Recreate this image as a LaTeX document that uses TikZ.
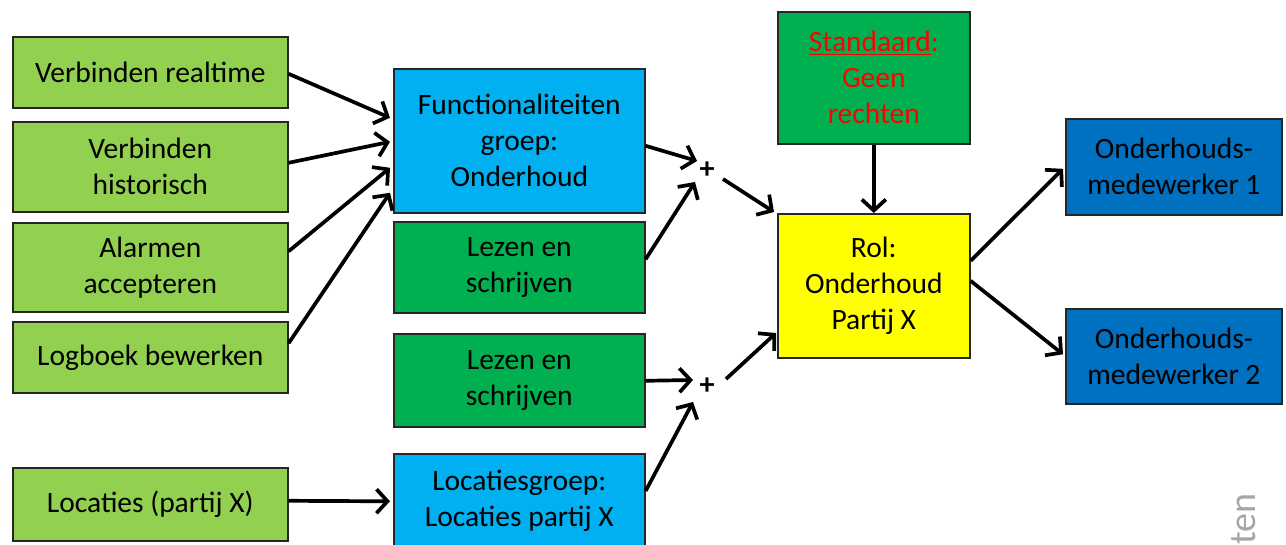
\documentclass[tikz,border=0pt]{standalone}
\usepackage{fontspec}
\setmainfont{Carlito}
\usetikzlibrary{arrows.meta,calc}
\definecolor{lgreen}{HTML}{92D050}
\definecolor{lblue}{HTML}{00B0F0}
\definecolor{dgreen}{HTML}{00B050}
\definecolor{dblue}{HTML}{0070C0}
\definecolor{ylw}{HTML}{FFFF00}
\definecolor{redtxt}{HTML}{FF0000}
\newcommand\myul[1]{\setbox0\hbox{#1}\rlap{\rule[-3.5pt]{\wd0}{1.6pt}}\box0}
\tikzset{
  box/.style={draw=black!85, line width=1.6pt, anchor=north west, align=center, inner sep=0pt,
    font=\fontsize{29.5}{36}\selectfont},
  arr/.style={line width=3.7pt, -{Straight Barb[length=11pt,width=24pt]}},
  plus/.style={font=\fontsize{30}{30}\selectfont\bfseries, inner sep=1pt},
}
\begin{document}
\begin{tikzpicture}[x=1pt,y=-1pt]
\useasboundingbox (0,0) rectangle (1286,545);
\fill[white] (0,0) rectangle (1286,545);
% left column
\node[box, fill=lgreen, minimum width=275pt, minimum height=71pt] (vr) at (12,36) {Verbinden realtime};
\node[box, fill=lgreen, minimum width=275pt, minimum height=90pt] (vh) at (12,121) {Verbinden\\historisch};
\node[box, fill=lgreen, minimum width=275pt, minimum height=89pt] (aa) at (12,222) {Alarmen\\accepteren};
\node[box, fill=lgreen, minimum width=275pt, minimum height=71pt] (lb) at (12,321) {Logboek bewerken};
\node[box, fill=lgreen, minimum width=275pt, minimum height=73pt] (lp) at (12,467) {Locaties (partij X)};
% middle column
\node[box, fill=lblue, minimum width=251pt, minimum height=144pt] (fg) at (393,68) {Functionaliteiten\\groep:\\Onderhoud};
\node[box, fill=dgreen, minimum width=251pt, minimum height=91pt] (ls1) at (393,221) {Lezen en\\schrijven};
\node[box, fill=dgreen, minimum width=251pt, minimum height=93pt] (ls2) at (393,333) {Lezen en\\schrijven};
\node[box, fill=lblue, minimum width=251pt, minimum height=95pt] (lg) at (393,453) {Locatiesgroep:\\Locaties partij X};
% plus signs
\node[plus] (p1) at (707,170) {+};
\node[plus] (p2) at (707,386) {+};
% right part
\node[box, fill=dgreen, minimum width=192pt, minimum height=132pt, text=redtxt] (std) at (777,11) {\myul{Standaard}:\\Geen\\rechten};
\node[box, fill=ylw, minimum width=192pt, minimum height=144pt] (rol) at (777,213) {Rol:\\Onderhoud\\Partij X};
\node[box, fill=dblue, minimum width=216pt, minimum height=96pt] (om1) at (1065,118) {Onderhouds-\\medewerker 1};
\node[box, fill=dblue, minimum width=216pt, minimum height=95pt] (om2) at (1065,308) {Onderhouds-\\medewerker 2};
% watermark fragment
\node[rotate=90, anchor=base west, inner sep=0pt, text=black!35, font=\fontsize{38}{38}\selectfont] (wm) at (1255,545) {ten};
% connectors
\draw[arr] ([yshift=-1.5pt]vr.east) -- ([xshift=-3pt,yshift=23pt]fg.west);
\draw[arr] ([yshift=4pt]vh.east) -- ([xshift=-3pt,yshift=-1pt]fg.west);
\draw[arr] ([yshift=16pt]aa.east) -- ([xshift=-3pt,yshift=-27pt]fg.west);
\draw[arr] ([yshift=14pt]lb.east) -- ([xshift=-3pt,yshift=-52pt]fg.west);
\draw[arr] ([yshift=3.5pt]lp.east) -- ([xshift=-3pt]lg.west);
\draw[arr] ([yshift=-5pt]fg.east) -- ([xshift=-10pt,yshift=9pt]p1.center);
\draw[arr] ([yshift=8pt]ls1.east) -- ([xshift=-12pt,yshift=-12pt]p1.center);
\draw[arr] ([xshift=16pt,yshift=-9pt]p1.center) -- ([xshift=-3pt,yshift=1pt]rol.north west);
\draw[arr] ([yshift=-0.5pt]ls2.east) -- ([xshift=-14pt,yshift=6pt]p2.center);
\draw[arr] ([yshift=-38pt]lg.north east) -- ([xshift=-14pt,yshift=-16pt]p2.center);
\draw[arr] ([xshift=19pt,yshift=7pt]p2.center) -- ([xshift=-1pt,yshift=-120pt]rol.north west);
\draw[arr] (std.south) -- (rol.north);
\draw[arr] ([yshift=25pt]rol.east) -- ([xshift=-2pt,yshift=-2pt]om1.west);
\draw[arr] ([yshift=5pt]rol.east) -- ([xshift=-2pt,yshift=2pt]om2.west);
\end{tikzpicture}
\end{document}
